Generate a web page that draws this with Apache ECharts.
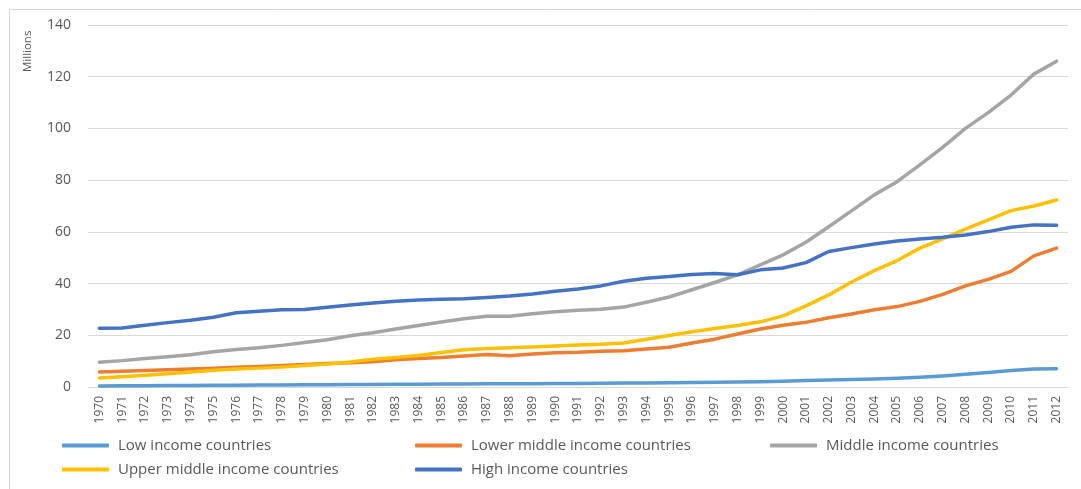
<!DOCTYPE html>
<html>
<head>
<meta charset="utf-8">
<script src="https://cdn.jsdelivr.net/npm/echarts@6/dist/echarts.min.js"></script>
<style>
html,body{margin:0;padding:0;background:#fff;}
#chart{width:1081px;height:489px;}
</style>
</head>
<body>
<div id="chart"></div>
<script>
const years = ['1970','1971','1972','1973','1974','1975','1976','1977','1978','1979','1980','1981','1982','1983','1984','1985','1986','1987','1988','1989','1990','1991','1992','1993','1994','1995','1996','1997','1998','1999','2000','2001','2002','2003','2004','2005','2006','2007','2008','2009','2010','2011','2012'];

const seriesNames = ['Low income countries','Lower middle income countries','Middle income countries','Upper middle income countries','High income countries'];

const lowIncome = [0.4,0.45,0.5,0.55,0.6,0.65,0.7,0.75,0.8,0.85,0.9,0.95,1.0,1.05,1.1,1.15,1.2,1.3,1.25,1.3,1.35,1.4,1.45,1.5,1.55,1.6,1.7,1.8,1.9,2.0,2.2,2.5,2.7,2.9,3.1,3.4,3.8,4.3,4.9,5.6,6.4,7.0,7.1];
const lowerMiddle = [5.8,6.1,6.4,6.7,7.0,7.3,7.6,7.9,8.3,8.7,9.1,9.4,9.8,10.5,11.0,11.4,12.0,12.6,12.1,12.8,13.2,13.4,13.8,14.0,14.7,15.4,17.0,18.5,20.5,22.4,23.9,25.0,26.8,28.2,29.9,31.1,33.1,35.8,39.1,41.6,44.7,50.7,53.7];
const middle = [9.6,10.2,11.0,11.7,12.5,13.6,14.5,15.2,16.1,17.2,18.3,19.8,21.0,22.4,23.8,25.1,26.4,27.4,27.4,28.3,29.1,29.7,30.1,30.9,32.8,34.8,37.6,40.4,43.4,47.2,51.1,56.0,62.0,68.1,74.3,79.4,85.9,92.7,100.0,106.1,112.9,121.0,126.0];
const upperMiddle = [3.5,4.0,4.5,5.1,5.8,6.5,7.0,7.3,7.7,8.3,8.9,9.7,10.7,11.4,12.2,13.3,14.4,14.9,15.2,15.5,15.9,16.2,16.5,17.0,18.5,19.9,21.4,22.6,23.8,25.2,27.5,31.4,35.6,40.6,45.0,48.9,53.7,57.3,61.1,64.6,68.2,70.0,72.3];
const highIncome = [22.7,22.8,23.9,24.9,25.8,27.0,28.7,29.3,29.9,30.0,30.8,31.7,32.5,33.2,33.6,33.9,34.1,34.6,35.2,36.0,37.0,37.9,39.1,40.9,42.1,42.7,43.5,43.9,43.4,45.3,46.0,48.1,52.4,53.9,55.3,56.5,57.2,57.9,58.8,60.1,61.8,62.7,62.6];

const yTicks = [0,20,40,60,80,100,120,140];

const colors = ['#5B9BD5','#ED7D31','#A5A5A5','#FFC000','#4472C4'];
const allData = [lowIncome, lowerMiddle, middle, upperMiddle, highIncome];

const textColor = '#595959';
const font = '"Open Sans", "Noto Sans", sans-serif';

const legendPos = [
  {left: 62, top: 438},
  {left: 415, top: 438},
  {left: 770, top: 438},
  {left: 62, top: 462},
  {left: 415, top: 462}
];

const chart = echarts.init(document.getElementById('chart'), null, {renderer: 'canvas'});

const option = {
  animation: false,
  backgroundColor: '#ffffff',
  color: colors,
  textStyle: {fontFamily: font},
  graphic: [
    {type: 'rect', left: 7, top: 7, shape: {x: 0, y: 0, width: 1090, height: 500}, style: {fill: 'none', stroke: '#d9d9d9', lineWidth: 1}, silent: true, z: -1},
    {type: 'text', x: 22, y: 72, rotation: Math.PI / 2, style: {text: 'Millions', fontFamily: font, fontSize: 11.5, fill: textColor}, silent: true}
  ],
  grid: {left: 88, right: 13, top: 25, bottom: 102, containLabel: false},
  legend: seriesNames.map((n, i) => ({
    data: [n],
    left: legendPos[i].left,
    top: legendPos[i].top,
    padding: 0,
    icon: 'roundRect',
    itemWidth: 47,
    itemHeight: 4,
    textStyle: {color: textColor, fontFamily: font, fontSize: 15, padding: [0, 0, 0, 4]},
    selectedMode: false
  })),
  xAxis: {
    type: 'category',
    data: years,
    boundaryGap: true,
    axisLine: {lineStyle: {color: '#d9d9d9', width: 1}},
    axisTick: {show: false},
    axisLabel: {rotate: 90, interval: 0, color: textColor, fontFamily: font, fontSize: 12, margin: 9}
  },
  yAxis: {
    type: 'value',
    min: yTicks[0],
    max: yTicks[yTicks.length - 1],
    interval: 20,
    axisLine: {show: false},
    axisTick: {show: false},
    splitLine: {lineStyle: {color: '#d9d9d9', width: 1}},
    axisLabel: {color: textColor, fontFamily: font, fontSize: 14, margin: 17}
  },
  series: seriesNames.map((n, i) => ({
    name: n,
    type: 'line',
    data: allData[i],
    showSymbol: false,
    symbol: 'none',
    smooth: false,
    lineStyle: {width: 3.5, color: colors[i], cap: 'round', join: 'round'},
    itemStyle: {color: colors[i]},
    emphasis: {disabled: true}
  }))
};

chart.setOption(option);
</script>
</body>
</html>
